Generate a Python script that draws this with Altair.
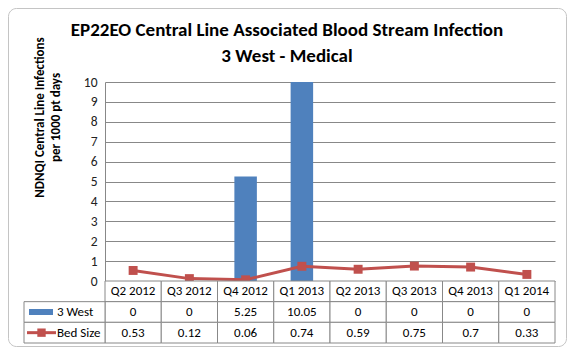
import altair as alt
import pandas as pd

quarters = ["Q2 2012", "Q3 2012", "Q4 2012", "Q1 2013", "Q2 2013", "Q3 2013", "Q4 2013", "Q1 2014"]
west3 = [0, 0, 5.25, 10.05, 0, 0, 0, 0]
bed_size = [0.53, 0.12, 0.06, 0.74, 0.59, 0.75, 0.7, 0.33]
series_names = ["3 West", "Bed Size"]
row_names = ["header", "3 West", "Bed Size"]
y_ticks = [0, 1, 2, 3, 4, 5, 6, 7, 8, 9, 10]
title_lines = ["EP22EO Central Line Associated Blood Stream Infection", "3 West - Medical"]
ytitle_lines = ["NDNQI Central Line Infections", "per 1000 pt days"]

FONT = "Carlito, Calibri, Lato, sans-serif"
BLUE = "#4F81BD"
RED = "#C0504D"
GRID = "#888888"
W, H = 450, 199

main_df = pd.DataFrame({"quarter": quarters, "west": west3, "bed": bed_size})

rows = []
for q, w, b in zip(quarters, west3, bed_size):
    rows.append({"quarter": q, "row": "header", "text": q})
    rows.append({"quarter": q, "row": "3 West", "text": f"{w:g}"})
    rows.append({"quarter": q, "row": "Bed Size", "text": f"{b:g}"})
table_df = pd.DataFrame(rows)
label_df = pd.DataFrame({"row": series_names})
frame_df = pd.DataFrame({"k": [0]})

xscale = alt.Scale(type="band", domain=quarters, paddingInner=0, paddingOuter=0)
rowscale = alt.Scale(type="band", domain=row_names, range=[H, H + 62], paddingInner=0, paddingOuter=0)
yscale = alt.Scale(domain=[0, 10], clamp=True, nice=False)

frame = alt.Chart(frame_df).mark_rect(
    cornerRadius=8, fillOpacity=0, stroke="#c4c4c4", strokeWidth=1
).encode(
    x=alt.value(-96.5), x2=alt.value(461.5), y=alt.value(-73.5), y2=alt.value(264.5)
)

bars = alt.Chart(main_df).mark_bar(color=BLUE, width=alt.RelativeBandSize(0.4), clip=True).encode(
    x=alt.X("quarter:N", scale=xscale, axis=None),
    y=alt.Y(
        "west:Q",
        scale=yscale,
        axis=alt.Axis(
            values=y_ticks,
            grid=True,
            gridColor=GRID,
            gridWidth=1,
            domainColor=GRID,
            ticks=False,
            labelPadding=8,
            labelFont=FONT,
            labelFontSize=13.5,
            labelColor="#222222",
            title=ytitle_lines,
            titleX=-72,
            titleY=35,
            titleAngle=-90,
            titleAlign="center",
            titleBaseline="top",
            titleFont=FONT,
            titleFontSize=13,
            titleFontWeight="bold",
            titleColor="black",
            titleLineHeight=16,
        ),
    ),
)

line = alt.Chart(main_df).mark_line(color=RED, strokeWidth=3).encode(
    x=alt.X("quarter:N", scale=xscale, axis=None, bandPosition=0.5),
    y=alt.Y("bed:Q", scale=yscale, axis=None),
)
pts = alt.Chart(main_df).mark_square(color=RED, size=80, opacity=1).encode(
    x=alt.X("quarter:N", scale=xscale, axis=None, bandPosition=0.5),
    y=alt.Y("bed:Q", scale=yscale, axis=None),
)

cells = alt.Chart(table_df).mark_rect(fill="white", stroke=GRID, strokeWidth=1).encode(
    x=alt.X("quarter:N", scale=xscale, axis=None),
    y=alt.Y("row:N", scale=rowscale, axis=None),
)
cell_text = alt.Chart(table_df).mark_text(font=FONT, fontSize=13, color="black", baseline="middle").encode(
    x=alt.X("quarter:N", scale=xscale, axis=None, bandPosition=0.5),
    y=alt.Y("row:N", scale=rowscale, axis=None, bandPosition=0.5),
    text="text:N",
)

label_cells = alt.Chart(label_df).mark_rect(fill="white", stroke=GRID, strokeWidth=1).encode(
    x=alt.value(-81), x2=alt.value(0),
    y=alt.Y("row:N", scale=rowscale, axis=None),
)
label_text = alt.Chart(label_df).mark_text(font=FONT, fontSize=13, color="black", align="left", baseline="middle").encode(
    x=alt.value(-48),
    y=alt.Y("row:N", scale=rowscale, axis=None, bandPosition=0.5),
    text="row:N",
)
key_bar = alt.Chart(label_df).transform_filter(alt.datum.row == "3 West").mark_rule(
    color=BLUE, strokeWidth=6, strokeCap="butt"
).encode(
    x=alt.value(-76), x2=alt.value(-52),
    y=alt.Y("row:N", scale=rowscale, axis=None, bandPosition=0.5),
)
key_line = alt.Chart(label_df).transform_filter(alt.datum.row == "Bed Size").mark_rule(
    color=RED, strokeWidth=3, strokeCap="butt"
).encode(
    x=alt.value(-78), x2=alt.value(-49),
    y=alt.Y("row:N", scale=rowscale, axis=None, bandPosition=0.5),
)
key_pt = alt.Chart(label_df).transform_filter(alt.datum.row == "Bed Size").mark_square(
    color=RED, size=70, opacity=1
).encode(
    x=alt.value(-63.5),
    y=alt.Y("row:N", scale=rowscale, axis=None, bandPosition=0.5),
)

chart = alt.layer(
    frame, bars, line, pts, cells, cell_text, label_cells, label_text, key_bar, key_line, key_pt
).resolve_scale(
    y="independent"
).properties(
    width=W,
    height=H,
    title=alt.TitleParams(
        text=title_lines,
        font=FONT,
        fontSize=19,
        fontWeight="bold",
        color="black",
        anchor="middle",
        frame="group",
        dx=-43,
        dy=74,
        offset=16,
        lineHeight=26,
    ),
    autosize=alt.AutoSizeParams(type="none"),
    padding={"left": 97, "top": 74, "right": 12, "bottom": 66},
).configure_view(strokeWidth=0)

chart.save("out.html", embed_options={"renderer": "svg", "actions": False})
